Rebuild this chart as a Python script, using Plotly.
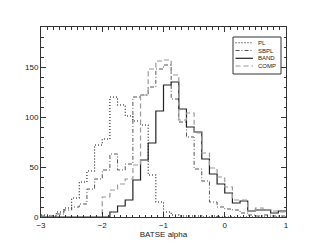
import plotly.graph_objects as go

# histogram bins: 32 bins of width 0.125 from -3 to 1
bin_start = -3.0
bin_width = 0.125
n_bins = 32

series_names = ["PL", "SBPL", "BAND", "COMP"]
pl = [2, 1, 5, 9, 19, 35, 46, 72, 78, 120, 112, 101, 96, 92, 42, 15, 5, 2, 1, 1, 1, 0, 1, 0, 0, 0, 0, 0, 0, 0, 0, 0]
sbpl = [1, 1, 3, 7, 10, 13, 28, 38, 47, 63, 47, 53, 120, 122, 130, 148, 152, 118, 95, 80, 48, 36, 15, 10, 8, 7, 4, 2, 1, 2, 1, 1]
band = [0, 0, 0, 0, 0, 0, 0, 0, 0, 5, 11, 17, 37, 57, 74, 106, 132, 135, 108, 90, 85, 58, 43, 33, 24, 14, 16, 6, 7, 7, 4, 6]
comp = [0, 0, 0, 0, 0, 0, 0, 0, 20, 27, 33, 38, 52, 122, 148, 156, 157, 142, 97, 104, 84, 64, 49, 40, 30, 17, 17, 6, 9, 7, 6, 5]

x_ticks = [-3, -2, -1, 0, 1]
x_tick_labels = ["\u22123", "\u22122", "\u22121", "0", "1"]
y_ticks = [0, 50, 100, 150]
y_tick_labels = ["0", "50", "100", "150"]

edges = [bin_start + bin_width * k for k in range(n_bins + 1)]

styles = {
    "PL": dict(color="#111111", dash="1px,2px", width=1.1),
    "SBPL": dict(color="#555555", dash="4px,2px,1px,2px", width=1.0),
    "BAND": dict(color="#222222", dash="solid", width=1.2),
    "COMP": dict(color="#9a9a9a", dash="5px,3px", width=1.2),
}
data = {"PL": pl, "SBPL": sbpl, "BAND": band, "COMP": comp}

fig = go.Figure()
for name in series_names:
    vals = data[name]
    fig.add_trace(go.Scatter(
        x=edges, y=list(vals) + [vals[-1]],
        mode="lines", line_shape="hv", name=name,
        line=styles[name], showlegend=False,
    ))

# page body has an 8px margin, so the figure is offset by 8px
W, H = 303, 241
L, R, T, B = 33, 25, 19, 32
OFF = 8
pw, ph = W - L - R, H - T - B

def px(x):
    return (x - OFF - L) / pw

def py(y):
    return (H - B - (y - OFF)) / ph

font = dict(family="Liberation Sans, Arial, sans-serif", size=8, color="#222222")

# legend box drawn as layout decoration
shapes = [dict(type="rect", xref="paper", yref="paper",
               x0=px(233), x1=px(281), y0=py(74), y1=py(37),
               line=dict(color="#333333", width=1), fillcolor="white")]
annotations = []
rows = [42.7, 50.5, 58.3, 66.0]
for name, ry in zip(series_names, rows):
    st = styles[name]
    shapes.append(dict(type="line", xref="paper", yref="paper",
                       x0=px(235.5), x1=px(253), y0=py(ry), y1=py(ry),
                       line=dict(color=st["color"], dash=st["dash"], width=st["width"])))
    annotations.append(dict(xref="paper", yref="paper", x=px(256), y=py(ry),
                            text=name, showarrow=False, xanchor="left", yanchor="middle",
                            font=dict(family=font["family"], size=6, color="#222222")))

axis_common = dict(
    showline=True, linecolor="#333333", linewidth=1, mirror="allticks",
    ticks="inside", ticklen=5, tickcolor="#333333", tickwidth=1,
    showgrid=False, zeroline=False, tickfont=font,
)

fig.update_layout(
    width=W, height=H,
    margin=dict(l=L, r=R, t=T, b=B),
    paper_bgcolor="white", plot_bgcolor="white",
    shapes=shapes, annotations=annotations,
    xaxis=dict(range=[-3, 1], tickvals=x_ticks, ticktext=x_tick_labels,
               minor=dict(dtick=0.1, ticks="inside", ticklen=2.5, tickcolor="#333333", showgrid=False),
               title=dict(text="BATSE alpha", font=font, standoff=2),
               **axis_common),
    yaxis=dict(range=[0, 190], tickvals=y_ticks, ticktext=y_tick_labels,
               minor=dict(dtick=10, ticks="inside", ticklen=2.5, tickcolor="#333333", showgrid=False),
               **axis_common),
    showlegend=False,
)

fig.write_html("out.html")
